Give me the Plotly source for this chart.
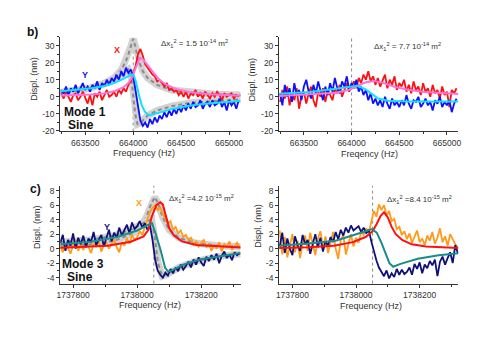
import plotly.graph_objects as go

# ---- sweep grids (measured frequencies) ------------------------------------
FREQ_B = list(range(663250, 665101, 25))      # mode 1 sweep, Hz
FREQ_C = list(range(1737760, 1738321, 8))     # mode 3 sweep, Hz

F0_B = 664000      # dotted line, mode 1
F0_C = 1738052     # dotted line, mode 3

# ---- panel b, left ----------------------------------------------------------
BL_X = [2, -1, 3, 0, -3, 1, 2, -2, 0, 3, -1,
        -4, 1, -5, 2, 0, 3, -2, 1, 4, 0,
        1, 3, 0, 4, 2, 5, 3, 7, 9, 13,
        18, 25, 28, 24, 19, 17, 15, 13, 12, 9,
        10, 8, 6, 8, 4, 5, 3, 4, 1, 3,
        0, 3, -1, 2, 1, 4, 0, 2, -1, 3,
        1, -1, 2, 0, 3, 1, -2, 2, 0, 1,
        2, -1, 1, 0]
BL_Y = [4, 2, 6, 1, 5, 3, 7, 2, 5, 8, 4,
        6, 3, 7, 5, 9, 4, 8, 6, 10, 7,
        11, 9, 13, 10, 15, 12, 17, 14, 16, 12,
        4, -6, -14, -17, -15, -18, -13, -16, -12, -15,
        -11, -13, -9, -12, -8, -11, -7, -10, -6, -9,
        -5, -8, -4, -7, -3, -6, -5, -2, -7, -4,
        -3, -6, -2, -5, -4, -1, -6, -3, -8, -2,
        -5, -3, -7, -2]

BL_FITX_F = [663240, 663400, 663560, 663700, 663800, 663900, 663950, 663980, 664010,
             664040, 664070, 664100, 664140, 664180, 664220, 664280, 664350, 664450,
             664600, 664800, 665120]
BL_FITX_V = [0.8, 1.0, 1.3, 2.0, 3.2, 5.6, 8.0, 10.5, 14.5, 19.5, 22.8, 22.0, 19.5,
             16.5, 13.5, 9.5, 7.0, 4.5, 2.6, 1.5, 0.6]
BL_FITY_F = [663240, 663400, 663560, 663700, 663800, 663880, 663940, 663980, 664005,
             664030, 664060, 664090, 664120, 664150, 664180, 664220, 664300, 664400,
             664550, 664750, 664950, 665120]
BL_FITY_V = [3.2, 4.0, 5.0, 6.3, 8.0, 10.0, 12.0, 13.0, 12.6, 8.5, 1.0, -5.0, -8.5,
             -10.3, -10.7, -10.2, -8.8, -7.2, -5.5, -4.0, -3.0, -2.3]

BL_REFX_F = [663240, 663400, 663550, 663700, 663800, 663880, 663940, 663980, 664000,
             664020, 664050, 664100, 664150, 664250, 664400, 664600, 664850, 665120]
BL_REFX_V = [2.5, 3.5, 5, 8, 11, 16, 23, 30, 34, 30, 22, 15, 11, 7, 4, 2.5, 1.5, 1]
BL_REFY_F = [663240, 663400, 663550, 663700, 663800, 663900, 663950, 663980, 664000,
             664020, 664045, 664080, 664150, 664250, 664400, 664600, 664850, 665120]
BL_REFY_V = [2.5, 3.5, 5, 7.5, 10, 14, 16, 12, 0, -10, -16, -15, -11, -8, -5.5,
             -3.5, -2.5, -1.5]

# ---- panel b, right ---------------------------------------------------------
BR_X = [-3, 4, -1, 6, -5, 2, -2, 5, -7, 1, 3,
        -4, 2, 6, -2, -6, 3, 0, 5, -3, 4,
        1, -2, 5, 2, 7, 0, 4, 8, 3, 6,
        9, 5, 11, 8, 13, 10, 15, 9, 12, 7,
        11, 6, 9, 13, 5, 10, 7, 12, 4, 8,
        6, 10, 3, 7, 2, 9, 4, 6, 1, 8,
        3, 5, 0, 7, 2, 4, -1, 6, 1, 3,
        -6, 4, 2, 5]
BR_Y = [2, -5, 7, 0, 5, -3, 8, 1, 4, -2, 6,
        10, 3, -1, 7, 2, 9, 4, -2, 6, 1,
        8, 3, 11, 5, 2, 9, 6, 12, 4, 8,
        5, 10, 3, 6, 1, 4, -2, 2, -4, -1,
        -5, -2, -6, 0, -4, -7, -1, -5, -3, -6,
        -2, -5, 1, -4, -7, -2, -3, 0, -6, -4,
        -1, -5, -3, -8, -2, -4, 0, -6, -3, -5,
        -2, -9, -4, -1]

BR_FITX_F = [663240, 663564, 663836, 663973, 664075, 664150, 664235, 664320, 664457,
             664593, 664764, 665120]
BR_FITX_V = [0.5, 1.3, 2.4, 4.1, 6.6, 8.5, 9.3, 8.3, 5.7, 4.1, 2.8, 1.7]
BR_FITY_F = [663240, 663564, 663836, 663973, 664058, 664143, 664211, 664280, 664382,
             664587, 665120]
BR_FITY_V = [1.8, 2.8, 4.7, 5.7, 6.4, 4.5, 1.5, -1.0, -2.3, -2.8, -2.7]

# ---- panel c, left ----------------------------------------------------------
CL_X = [0.3, -0.5, 0.8, 0.1, -0.7, 0.5, 1.2, -0.3, 0.6, -0.2,
        0.9, 0.2, -0.6, 0.7, 0.3, 1.1, -0.4, 0.5, 0.8, 0.0,
        0.6, 1.3, 0.2, -0.5, 0.9, 0.4, 1.5, 0.7, 1.9, 1.2,
        1.6, 2.4, 1.9, 3.0, 4.2, 5.1, 5.6, 6.0, 5.3, 5.7,
        4.8, 4.2, 3.5, 3.8, 2.6, 3.0, 2.1, 2.5, 1.6, 1.9,
        1.2, 1.5, 0.6, 1.0, 0.3, 0.8, 1.2, 0.2, 0.7, -0.3,
        0.5, 0.1, 0.9, -0.4, 0.6, 0.2, 1.0, -0.2, 0.4, 0.8,
        0.1]
CL_Y = [0.8, 1.9, -0.3, 1.2, 0.4, 2.1, 0.0, 1.5, 0.6, 1.8,
        0.2, 1.4, 0.9, 2.3, 0.5, 1.1, 1.9, 0.3, 1.6, 2.6,
        1.0, 2.2, 1.5, 2.9, 1.8, 2.5, 3.3, 2.1, 3.6, 2.7,
        3.1, 3.8, 2.9, 3.5, 2.6, 3.2, 1.2, -1.5, -3.0, -3.6,
        -4.0, -3.3, -3.7, -2.8, -3.4, -2.6, -3.1, -2.2, -2.9, -2.4,
        -1.8, -2.6, -1.5, -2.2, -1.2, -1.9, -2.4, -1.1, -1.7, -0.9,
        -1.5, -0.7, -2.0, -1.0, -0.4, -1.3, -0.8, -1.6, -0.5, -0.9,
        -0.6]

CL_FITX_F = [1737754, 1737908, 1737980, 1738020, 1738035, 1738046, 1738060, 1738072,
             1738080, 1738090, 1738100, 1738115, 1738140, 1738185, 1738323]
CL_FITX_V = [0.1, 0.4, 0.95, 1.7, 2.6, 4.5, 6.0, 6.4, 6.1, 4.3, 2.8, 1.8, 1.0, 0.5, 0.15]
CL_FITY_F = [1737754, 1737856, 1737938, 1738000, 1738031, 1738046, 1738056, 1738072,
             1738087, 1738097, 1738113, 1738144, 1738195, 1738323]
CL_FITY_V = [0.6, 0.95, 1.6, 2.5, 3.2, 3.5, 2.3, 0.0, -2.6, -3.2, -2.9, -2.2, -1.5, -0.6]

CL_REFX_F = [1737760, 1737850, 1737930, 1737990, 1738025, 1738045, 1738055, 1738065,
             1738080, 1738100, 1738130, 1738180, 1738250, 1738323]
CL_REFX_V = [0.4, 0.6, 1.1, 2.2, 4.0, 6.3, 7.1, 6.3, 4.3, 2.6, 1.5, 0.8, 0.4, 0.3]
CL_REFY_F = [1737760, 1737850, 1737930, 1737990, 1738030, 1738045, 1738055, 1738065,
             1738078, 1738095, 1738130, 1738180, 1738250, 1738323]
CL_REFY_V = [0.9, 1.2, 1.8, 2.8, 3.8, 4.0, 1.5, -2.0, -3.8, -3.5, -2.6, -1.8, -1.1, -0.7]

# ---- panel c, right ---------------------------------------------------------
CR_X = [2.5, -0.8, 1.6, -1.2, 0.4, 2.0, -0.5, 1.1, -1.3, 0.7,
        1.8, -0.3, 2.2, 0.5, -0.9, 1.4, 2.4, 0.1, 1.7, -0.6,
        0.9, 2.3, 0.0, -1.4, 1.2, 1.9, -0.8, 0.6, 2.0, 0.3,
        1.5, 0.8, 2.3, 1.9, 2.8, 2.2, 3.6, 5.2, 4.4, 6.1,
        5.3, 6.0, 4.6, 5.2, 3.8, 4.1, 2.7, 3.0, 1.9, 2.4,
        1.3, 2.1, 0.8, 1.6, 2.5, 0.9, 1.4, 0.5, 1.8, 1.1,
        2.3, 0.7, 1.5, 2.8, 0.9, 1.7, 0.4, 2.0, 1.2, 0.6,
        0.2]
CR_Y = [0.3, 2.2, -0.6, 1.4, 0.0, -0.9, 1.7, 0.5, -0.3, 1.9,
        0.6, 1.2, -0.7, 0.8, 2.0, 0.2, 1.5, -0.4, 1.0, 0.4,
        1.6, 0.9, 2.3, 1.3, 2.6, 1.8, 2.9, 2.2, 3.2, 2.5,
        2.8, 3.1, 2.3, 2.9, 2.1, 2.6, 1.0, -0.5, -1.6, -2.6,
        -3.2, -3.8, -3.0, -4.1, -3.4, -3.9, -2.8, -3.6, -2.9, -3.5,
        -3.2, -2.6, -3.6, -2.1, -2.8, -1.9, -3.4, -2.2, -2.7, -1.7,
        -2.3, -1.5, -3.8, -1.8, -1.1, -2.2, -1.3, -0.5, -2.0, 0.5,
        -0.6]

CR_FITX_F = [1737758, 1737850, 1737930, 1737990, 1738030, 1738052, 1738065, 1738077,
             1738088, 1738100, 1738112, 1738125, 1738145, 1738175, 1738220, 1738322]
CR_FITX_V = [0.1, 0.2, 0.4, 0.9, 1.6, 2.4, 3.4, 4.5, 5.0, 4.3, 3.0, 2.0, 1.2, 0.6, 0.3, 0.1]
CR_FITY_F = [1737758, 1737850, 1737936, 1737990, 1738030, 1738050, 1738065, 1738080,
             1738093, 1738105, 1738117, 1738140, 1738194, 1738260, 1738322]
CR_FITY_V = [0.4, 0.7, 1.1, 1.8, 2.4, 2.7, 2.2, 0.8, -0.8, -2.0, -2.5, -2.1, -1.4, -0.9, -0.65]

# ---- axis ticks -------------------------------------------------------------
B_YTICKS = [-20, -10, 0, 10, 20, 30]
C_YTICKS = [-4, -2, 0, 2, 4, 6, 8]
B_XTICKS = [663500, 664000, 664500, 665000]
C_XTICKS = [1737800, 1738000, 1738200]

FONT = "Liberation Sans, Arial, sans-serif"
AX = "#333333"
# the page body keeps its default 8px margin, so the figure is drawn 8px in
OFF = 8
W, H = 491 - OFF, 338 - OFF


def px(x):
    return (x - OFF) / W


def py(y):
    return 1 - (y - OFF) / H


fig = go.Figure()


def line(x, y, color, width, xa, ya, dash=None):
    fig.add_trace(go.Scatter(
        x=x, y=y, mode="lines", xaxis=xa, yaxis=ya,
        line=dict(color=color, width=width, dash=dash),
        showlegend=False, hoverinfo="skip",
    ))


def gray_ref(x, y, xa, ya):
    line(x, y, "#d2d2d2", 7, xa, ya)
    line(x, y, "#8c8c8c", 2, xa, ya, dash="4px,3px")


# b left
gray_ref(BL_REFX_F, BL_REFX_V, "x", "y")
gray_ref(BL_REFY_F, BL_REFY_V, "x", "y")
line(FREQ_B, BL_X, "#ff1010", 1.8, "x", "y")
line(FREQ_B, BL_Y, "#1010ff", 1.8, "x", "y")
line(BL_FITX_F, BL_FITX_V, "#ff70d8", 2, "x", "y")
line(BL_FITY_F, BL_FITY_V, "#10e0ff", 2, "x", "y")
# b right
line(FREQ_B, BR_X, "#ff1010", 1.8, "x2", "y2")
line(FREQ_B, BR_Y, "#1010ff", 1.8, "x2", "y2")
line(BR_FITX_F, BR_FITX_V, "#ff70d8", 2, "x2", "y2")
line(BR_FITY_F, BR_FITY_V, "#10e0ff", 2, "x2", "y2")
# c left
gray_ref(CL_REFX_F, CL_REFX_V, "x3", "y3")
gray_ref(CL_REFY_F, CL_REFY_V, "x3", "y3")
line(FREQ_C, CL_X, "#ff9a1a", 1.8, "x3", "y3")
line(FREQ_C, CL_Y, "#10107a", 1.8, "x3", "y3")
line(CL_FITX_F, CL_FITX_V, "#ff1010", 2, "x3", "y3")
line(CL_FITY_F, CL_FITY_V, "#1a8c8c", 2, "x3", "y3")
# c right
line(FREQ_C, CR_X, "#ff9a1a", 1.8, "x4", "y4")
line(FREQ_C, CR_Y, "#10107a", 1.8, "x4", "y4")
line(CR_FITX_F, CR_FITX_V, "#ff1010", 2, "x4", "y4")
line(CR_FITY_F, CR_FITY_V, "#1a8c8c", 2, "x4", "y4")

# dotted resonance markers
for xa, ya, f0 in [("x", "y", F0_B), ("x2", "y2", F0_B), ("x3", "y3", F0_C), ("x4", "y4", F0_C)]:
    fig.add_shape(type="line", xref=xa, yref=f"{ya} domain", x0=f0, x1=f0, y0=0, y1=1,
                  line=dict(color="#8a8a8a", width=1, dash="dot"), layer="below")


def axis(dom, rng, ticks, minor, anchor):
    return dict(domain=dom, range=rng, anchor=anchor, tickmode="array", tickvals=ticks,
                ticktext=[str(t) for t in ticks], showline=True, linecolor=AX, linewidth=1,
                ticks="outside", ticklen=3, tickcolor=AX, showgrid=False, zeroline=False,
                tickfont=dict(family=FONT, size=8.5, color=AX),
                minor=dict(ticks="outside", ticklen=2, tickcolor=AX, tick0=ticks[0], dtick=minor,
                           showgrid=False))


XL = [px(57), px(240)]
XR = [px(279), px(461)]
YB = [py(133), py(37)]
YC = [py(287), py(188)]

fig.update_layout(
    width=W, height=H, autosize=False,
    margin=dict(l=0, r=0, t=0, b=0),
    paper_bgcolor="white", plot_bgcolor="white",
    showlegend=False,
    font=dict(family=FONT, color=AX),
    xaxis=axis(XL, [663240, 665120], B_XTICKS, 250, "y"),
    yaxis=axis(YB, [-20.3, 35.2], B_YTICKS, 5, "x"),
    xaxis2=axis(XR, [663240, 665120], B_XTICKS, 250, "y2"),
    yaxis2=axis(YB, [-20.3, 35.2], B_YTICKS, 5, "x2"),
    xaxis3=axis(XL, [1737760, 1738323], C_XTICKS, 100, "y3"),
    yaxis3=axis(YC, [-4.82, 8.66], C_YTICKS, 1, "x3"),
    xaxis4=axis(XR, [1737758, 1738322], C_XTICKS, 100, "y4"),
    yaxis4=axis(YC, [-4.82, 8.66], C_YTICKS, 1, "x4"),
)


def note(text, x, y, size=9, color=AX, xanchor="center", angle=0, bold=False):
    if bold:
        text = f"<b>{text}</b>"
    fig.add_annotation(text=text, x=px(x), y=py(y), xref="paper", yref="paper",
                       xanchor=xanchor, yanchor="middle", showarrow=False, textangle=angle,
                       borderpad=0, font=dict(family=FONT, size=size, color=color))


# panel letters and mode labels
note("b)", 22, 32, size=12, color="#111111", xanchor="left", bold=True)
note("c)", 25, 191, size=12, color="#111111", xanchor="left", bold=True)
note("Mode 1", 82, 113, size=12, color="#111111", bold=True)
note("Sine", 78, 126, size=12, color="#111111", bold=True)
note("Mode 3", 80, 267, size=12, color="#111111", bold=True)
note("Sine", 77.5, 280, size=12, color="#111111", bold=True)

# X / Y labels
note("X", 115, 51, size=9, color="#ff1010", bold=True)
note("Y", 82, 76, size=9, color="#1010ff", bold=True)
note("X", 137, 205, size=9, color="#ff9a1a", bold=True)
note("Y", 104, 230, size=9, color="#10107a", bold=True)

# fitted Δx annotations
note("Δx<sub>1</sub><sup>2</sup> = 1.5 10<sup>-14</sup> m<sup>2</sup>", 158, 44, size=8, xanchor="left")
note("Δx<sub>1</sub><sup>2</sup> = 7.7 10<sup>-14</sup> m<sup>2</sup>", 374, 47, size=8, xanchor="left")
note("Δx<sub>1</sub><sup>2</sup> =4.2 10<sup>-15</sup> m<sup>2</sup>", 166, 201, size=8, xanchor="left")
note("Δx<sub>1</sub><sup>2</sup> =8.4 10<sup>-15</sup> m<sup>2</sup>", 387, 202, size=8, xanchor="left")

# axis titles
note("Displ. (nm)", 30, 80, size=9, angle=-90)
note("Displ. (nm)", 252, 80, size=9, angle=-90)
note("Displ. (nm)", 34, 230, size=9, angle=-90)
note("Displ. (nm)", 258, 228, size=9, angle=-90)
note("Frequency (Hz)", 142, 155, size=9)
note("Freqency (Hz)", 371, 156, size=9)
note("Frequency (Hz)", 148, 309, size=9)
note("Frequency (Hz)", 372, 310, size=9)

fig.write_html("out.html")
